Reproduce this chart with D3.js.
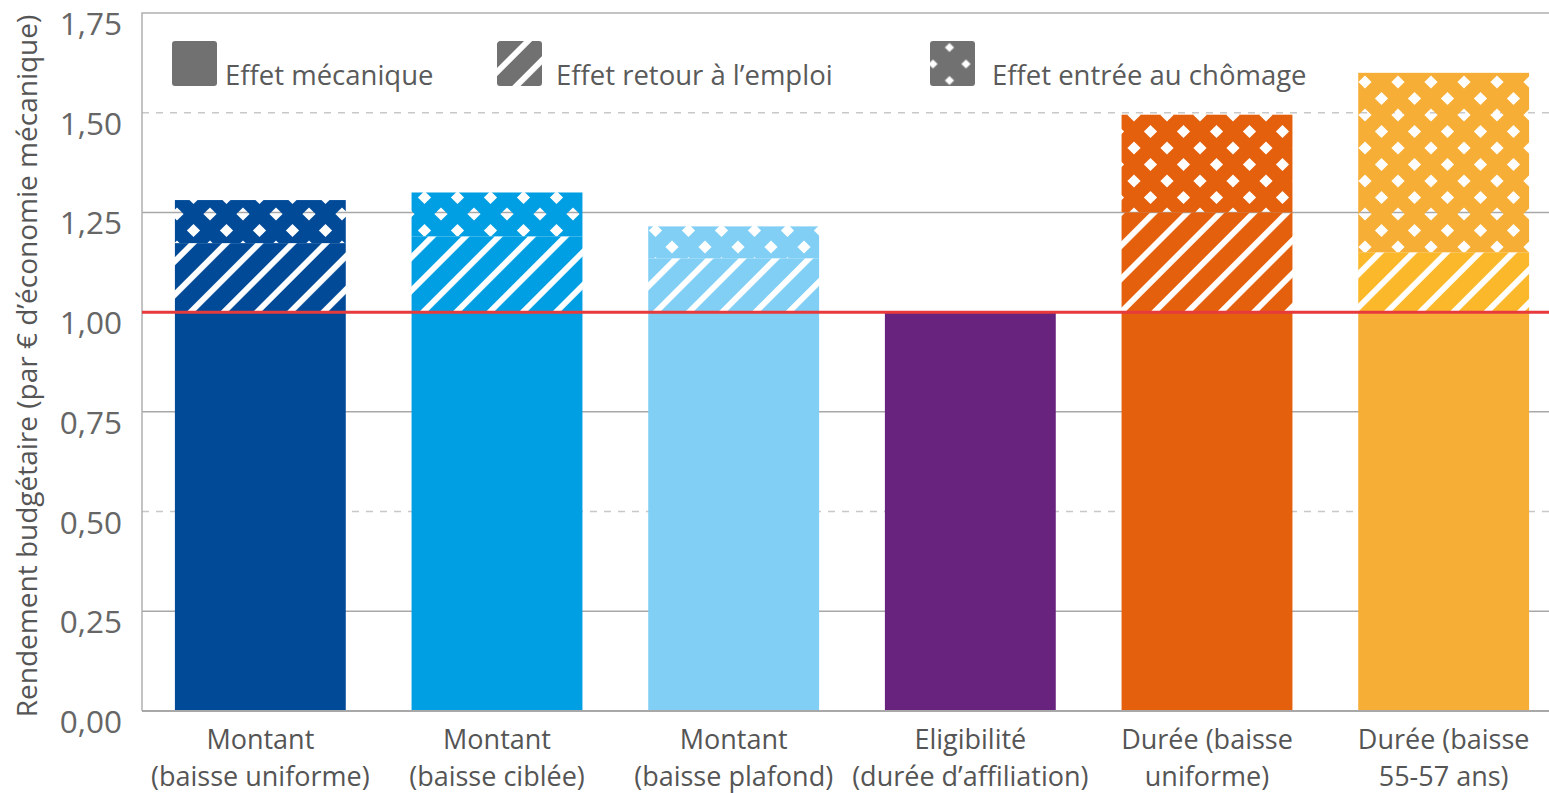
<!DOCTYPE html>
<html>
<head>
<meta charset="utf-8">
<script src="https://cdn.jsdelivr.net/npm/d3@7"></script>
<style>
  body { margin: 0; background: #fff; }
  text { font-family: "Open Sans", Roboto, "Liberation Sans", sans-serif; }
</style>
</head>
<body>
<div id="chart"></div>
<script>
"use strict";

// data
var categories = [
  ["Montant", "(baisse uniforme)"],
  ["Montant", "(baisse ciblée)"],
  ["Montant", "(baisse plafond)"],
  ["Eligibilité", "(durée d’affiliation)"],
  ["Durée (baisse", "uniforme)"],
  ["Durée (baisse", "55-57 ans)"]
];
var mecanique = [1.00, 1.00, 1.00, 1.00, 1.00, 1.00];
var retourEmploi = [0.173, 0.19, 0.135, 0, 0.25, 0.15];
var entreeChomage = [0.108, 0.11, 0.08, 0, 0.245, 0.45];
var yTicks = [0, 0.25, 0.5, 0.75, 1, 1.25, 1.5, 1.75];
var legendLabels = ["Effet mécanique", "Effet retour à l’emploi", "Effet entrée au chômage"];

// palette
var barColors = ["#004a98", "#009fe3", "#82cff5", "#68237f", "#e4600c", "#f6ae37"];
var hatchColors = ["#004a98", "#009fe3", "#82cff5", "#68237f", "#e4600c", "#fab82a"];

var width = 1549, height = 793;
var plotLeft = 142, plotTop = 13, plotBottom = 711;

var svg = d3.select("#chart").append("svg").attr("width", width).attr("height", height);
var defs = svg.append("defs");

// mask patterns: white = keep colour, black = hole
var hatchPat = defs.append("pattern").attr("id", "hatchPat").attr("patternUnits", "userSpaceOnUse")
  .attr("width", 23.5).attr("height", 23.5).attr("patternTransform", "rotate(45)");
hatchPat.append("rect").attr("width", 23.5).attr("height", 23.5).attr("fill", "#fff");
hatchPat.append("rect").attr("x", 0).attr("width", 5.8).attr("height", 23.5).attr("fill", "#000");

// diamond lattice, one tile = corners + centre
function dotPattern(id, ox, oy, r) {
  var p = defs.append("pattern").attr("id", id).attr("patternUnits", "userSpaceOnUse")
    .attr("width", 33).attr("height", 33).attr("x", ox).attr("y", oy);
  p.append("rect").attr("width", 33).attr("height", 33).attr("fill", "#fff");
  [[0, 0], [33, 0], [0, 33], [33, 33], [16.5, 16.5]].forEach(function (c) {
    p.append("path")
      .attr("d", "M" + c[0] + "," + (c[1] - r) + "L" + (c[0] + r) + "," + c[1] + "L" + c[0] + "," + (c[1] + r) + "L" + (c[0] - r) + "," + c[1] + "Z")
      .attr("fill", "#000");
  });
}
dotPattern("dotPat", 12, 16, 6.6);
dotPattern("dotLegendPat", 25.5, 14.5, 4.6);

["hatch", "dot", "dotLegend"].forEach(function (k) {
  defs.append("mask").attr("id", k + "Mask").attr("maskUnits", "userSpaceOnUse")
    .attr("x", 0).attr("y", 0).attr("width", width).attr("height", height)
    .append("rect").attr("width", width).attr("height", height).attr("fill", "url(#" + k + "Pat)");
});

// scales
var x = d3.scaleBand().domain(d3.range(categories.length)).range([plotLeft, 1562]).paddingInner(0.278).paddingOuter(0.139);
var y = d3.scaleLinear().domain([0, 1.75]).range([plotBottom, plotTop]);

// gridlines
svg.append("g").selectAll("line").data(yTicks.filter(function (d) { return d > 0 && d < 1.75 && d !== 1; }))
  .enter().append("line")
  .attr("x1", plotLeft).attr("x2", width)
  .attr("y1", function (d) { return y(d); }).attr("y2", function (d) { return y(d); })
  .style("stroke", function (d) { return (d === 0.5 || d === 1.5) ? "#c8c8c8" : "#a8a8a8"; })
  .style("stroke-width", 1.5)
  .style("stroke-dasharray", function (d) { return (d === 0.5 || d === 1.5) ? "7,7" : null; });

// frame: top and left
svg.append("path").attr("d", "M" + width + "," + y(1.75) + "H" + plotLeft + "V" + plotBottom)
  .style("fill", "none").style("stroke", "#b0b0b0").style("stroke-width", 1.5);

// stacked bars
var rows = categories.map(function (c, i) {
  return { i: i, mecanique: mecanique[i], retour: retourEmploi[i], entree: entreeChomage[i] };
});
var stack = d3.stack().keys(["mecanique", "retour", "entree"])(rows);
var maskFor = { mecanique: null, retour: "url(#hatchMask)", entree: "url(#dotMask)" };

svg.append("g").selectAll("g").data(stack).enter().append("g")
  .attr("mask", function (s) { return maskFor[s.key]; })
  .each(function (s) {
    d3.select(this).selectAll("rect").data(s.filter(function (d) { return d[1] > d[0]; })).enter().append("rect")
      .attr("x", function (d) { return x(d.data.i); })
      .attr("width", x.bandwidth())
      .attr("y", function (d) { return y(d[1]); })
      .attr("height", function (d) { return y(d[0]) - y(d[1]); })
      .style("fill", function (d) { return s.key === "retour" ? hatchColors[d.data.i] : barColors[d.data.i]; });
  });

// bottom axis line
svg.append("line").attr("x1", plotLeft).attr("x2", width).attr("y1", plotBottom).attr("y2", plotBottom)
  .style("stroke", "#a8a8a8").style("stroke-width", 2);

// reference line at 1
svg.append("line").attr("x1", plotLeft).attr("x2", width).attr("y1", y(1)).attr("y2", y(1))
  .style("stroke", "#e63a3c").style("stroke-width", 3);

// y tick labels
var fmt = function (d) { return d3.format(".2f")(d).replace(".", ","); };
svg.append("g").selectAll("text").data(yTicks).enter().append("text")
  .attr("x", 122).attr("y", function (d) { return y(d) + 22; })
  .attr("text-anchor", "end").style("font-size", "31.5px").style("fill", "#666")
  .text(fmt);

// y title
svg.append("text").attr("transform", "translate(37," + 366 + ") rotate(-90)")
  .attr("text-anchor", "middle").style("font-size", "28px").style("fill", "#555")
  .text("Rendement budgétaire (par € d’économie mécanique)");

// x labels
var xl = svg.append("g").selectAll("text").data(categories).enter().append("text")
  .attr("text-anchor", "middle").style("font-size", "27px").style("fill", "#555");
xl.append("tspan").attr("x", function (d, i) { return x(i) + x.bandwidth() / 2; }).attr("y", 749)
  .text(function (d) { return d[0]; });
xl.append("tspan").attr("x", function (d, i) { return x(i) + x.bandwidth() / 2; }).attr("y", 786)
  .text(function (d) { return d[1]; });

// legend
var legendX = [172, 497, 930];
var legendTextX = [225, 556, 992];
var legendMasks = [null, "url(#hatchMask)", "url(#dotLegendMask)"];
var legend = svg.append("g").selectAll("g").data(legendLabels).enter().append("g");
legend.append("rect")
  .attr("x", function (d, i) { return legendX[i]; }).attr("y", 41)
  .attr("width", 45).attr("height", 45).attr("rx", 3)
  .attr("mask", function (d, i) { return legendMasks[i]; })
  .style("fill", "#717171");
legend.append("text")
  .attr("x", function (d, i) { return legendTextX[i]; }).attr("y", 85)
  .style("font-size", "27.5px").style("fill", "#5a5a5a")
  .text(function (d) { return d; });
</script>
</body>
</html>
